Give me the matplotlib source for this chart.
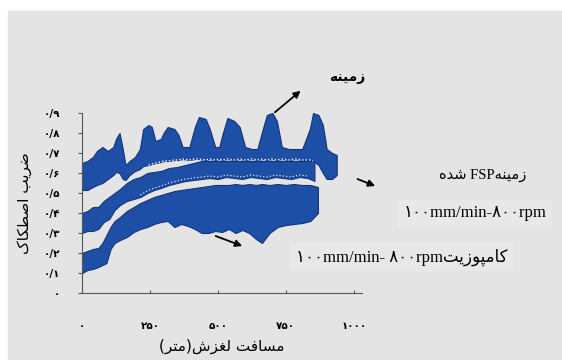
import matplotlib
matplotlib.use("Agg")
import matplotlib.pyplot as plt
from matplotlib.patches import Rectangle

# sliding distance (m) and friction-coefficient envelopes
# base metal
d_base = [0, 20, 40, 55, 75, 95, 115, 125, 138, 150, 160, 175, 195, 213, 225, 245, 257, 270,
          290, 300, 315, 340, 355, 370, 395, 415, 430, 455, 470, 490, 505, 518, 535, 560, 580,
          600, 625, 645, 665, 680, 700, 717, 735, 760, 785, 810, 838, 850, 870, 886, 900, 920, 937]
base_hi = [0.65, 0.66, 0.68, 0.71, 0.73, 0.71, 0.73, 0.77, 0.80, 0.72, 0.64, 0.66, 0.68, 0.72,
           0.82, 0.84, 0.83, 0.76, 0.77, 0.80, 0.83, 0.82, 0.79, 0.73, 0.73, 0.83, 0.88, 0.87,
           0.82, 0.73, 0.73, 0.80, 0.875, 0.86, 0.83, 0.73, 0.72, 0.72, 0.82, 0.89, 0.90, 0.86,
           0.73, 0.72, 0.72, 0.72, 0.82, 0.90, 0.89, 0.84, 0.72, 0.70, 0.69]
base_lo = [0.515, 0.515, 0.53, 0.54, 0.55, 0.57, 0.59, 0.605, 0.60, 0.57, 0.565, 0.59, 0.61,
           0.62, 0.635, 0.64, 0.645, 0.65, 0.655, 0.66, 0.66, 0.665, 0.665, 0.67, 0.665, 0.67,
           0.67, 0.665, 0.67, 0.665, 0.67, 0.665, 0.67, 0.665, 0.67, 0.665, 0.67, 0.665, 0.67,
           0.665, 0.67, 0.665, 0.67, 0.665, 0.67, 0.665, 0.665, 0.66, 0.64, 0.60, 0.57, 0.57, 0.59]

# FSP processed base, 100 mm/min - 800 rpm
d_fsp = [0, 20, 40, 60, 80, 100, 120, 140, 165, 190, 215, 240, 265, 290, 320, 350, 380, 410,
         440, 470, 500, 530, 560, 590, 620, 650, 680, 710, 740, 770, 800, 830, 855]
fsp_hi = [0.40, 0.41, 0.43, 0.43, 0.46, 0.48, 0.50, 0.52, 0.55, 0.57, 0.58, 0.60, 0.605, 0.61,
          0.625, 0.63, 0.64, 0.65, 0.66, 0.66, 0.66, 0.66, 0.66, 0.66, 0.66, 0.66, 0.66, 0.66,
          0.66, 0.66, 0.66, 0.66, 0.66]
fsp_lo = [0.30, 0.31, 0.31, 0.32, 0.355, 0.37, 0.415, 0.44, 0.46, 0.47, 0.48, 0.50, 0.515, 0.525,
          0.54, 0.55, 0.56, 0.565, 0.57, 0.575, 0.57, 0.58, 0.575, 0.57, 0.58, 0.575, 0.57, 0.58,
          0.575, 0.57, 0.58, 0.575, 0.56]

# composite, 100 mm/min - 800 rpm
d_comp = [0, 20, 40, 60, 75, 90, 105, 120, 140, 165, 190, 215, 240, 265, 290, 315, 340, 365,
          390, 415, 440, 465, 490, 515, 540, 565, 590, 615, 640, 662, 690, 720, 750, 780, 810,
          840, 868]
comp_hi = [0.20, 0.21, 0.22, 0.225, 0.25, 0.29, 0.33, 0.36, 0.38, 0.41, 0.43, 0.45, 0.465, 0.48,
           0.49, 0.50, 0.51, 0.515, 0.52, 0.525, 0.53, 0.535, 0.54, 0.54, 0.54, 0.545, 0.54,
           0.545, 0.54, 0.545, 0.54, 0.545, 0.54, 0.545, 0.54, 0.54, 0.53]
comp_lo = [0.10, 0.115, 0.12, 0.13, 0.14, 0.15, 0.22, 0.25, 0.265, 0.28, 0.305, 0.32, 0.33,
           0.345, 0.355, 0.36, 0.33, 0.345, 0.335, 0.32, 0.30, 0.30, 0.31, 0.305, 0.32, 0.30,
           0.315, 0.30, 0.27, 0.25, 0.30, 0.33, 0.34, 0.345, 0.35, 0.36, 0.40]

x_ticks = [0, 250, 500, 750, 1000]
x_tick_labels = ["\u06f0", "\u06f2\u06f5\u06f0", "\u06f5\u06f0\u06f0", "\u06f7\u06f5\u06f0",
                 "\u06f1\u06f0\u06f0\u06f0"]
y_ticks = [0, 0.1, 0.2, 0.3, 0.4, 0.5, 0.6, 0.7, 0.8, 0.9]
y_tick_labels = ["\u06f0"] + ["\u06f0/" + chr(0x06f0 + i) for i in range(1, 10)]

# persian strings, pre-shaped (presentation forms, visual order)
txt_base = "\ufeea\ufee8\ufef4\ufee3\ufeaf"
txt_fsp = "\ufee9\ufeaa\ufeb7 FSP" + txt_base
txt_speed = "\u06f1\u06f0\u06f0mm/min-\u06f8\u06f0\u06f0rpm"
txt_comp = "\u06f1\u06f0\u06f0mm/min- \u06f8\u06f0\u06f0rpm" + "\ufe96\ufef3\ufeaf\ufeee\ufb59\ufee3\ufe8e\ufb90"
txt_ylabel = "\ufb8e\ufe8e\ufb91\ufec4\ufebb\ufe8d \ufe90\ufef3\ufeae\ufebf"
txt_xlabel = "(\ufeae\ufe98\ufee3)\ufeb5\ufeb0\ufed0\ufedf \ufe96\ufed3\ufe8e\ufeb4\ufee3"

fam = ["Liberation Serif", "DejaVu Sans"]
blue = "#1e4fa6"
edge = "#12357a"

fig = plt.figure(figsize=(5.62, 3.6), dpi=100, facecolor="white")
fig.patches.append(Rectangle((8 / 562, 0), 1, 349 / 360, transform=fig.transFigure,
                             color="#e4e4e4", zorder=-10))
ax = fig.add_axes([82 / 562, 67 / 360, 280 / 562, 180 / 360])
ax.set_facecolor("none")

for d, lo, hi in [(d_comp, comp_lo, comp_hi), (d_fsp, fsp_lo, fsp_hi), (d_base, base_lo, base_hi)]:
    ax.fill_between(d, lo, hi, color=blue, edgecolor=edge, linewidth=0.8, clip_on=False)

# speckled seam where the base and FSP traces touch
seam = [i for i, d in enumerate(d_base) if 230 <= d <= 860]
ax.plot([d_base[i] for i in seam], [base_lo[i] for i in seam], color="white",
        ls=(0, (1, 1.5)), lw=1.0)
ax.plot(d_fsp[10:-1], [v + 0.01 for v in fsp_lo[10:-1]], color="white", ls=(0, (1, 2)), lw=0.8)

ax.set_xlim(0, 1030)
ax.set_ylim(0, 0.9)
for s in ["top", "right"]:
    ax.spines[s].set_visible(False)
for s in ["left", "bottom"]:
    ax.spines[s].set_color("#555555")
    ax.spines[s].set_linewidth(0.8)

ax.set_xticks(x_ticks)
ax.set_xticklabels(x_tick_labels, fontsize=7.5, fontweight="bold", family="DejaVu Sans")
ax.set_yticks(y_ticks)
ax.set_yticklabels(y_tick_labels, fontsize=7.5, fontweight="bold", family="DejaVu Sans")
ax.tick_params(axis="x", direction="in", length=2, pad=20, color="#555555")
ax.tick_params(axis="y", direction="out", length=3, pad=13, color="#555555")

ax.set_xlabel(txt_xlabel, fontsize=11, family="DejaVu Sans", labelpad=6)
ax.set_ylabel(txt_ylabel, fontsize=11, family="DejaVu Sans", labelpad=8)

arrow = dict(arrowstyle="-|>", color="black", lw=1.3, mutation_scale=10)
ax.annotate("", xy=(812, 1.02), xytext=(702, 0.895), arrowprops=arrow, annotation_clip=False)
ax.annotate("", xy=(1088, 0.53), xytext=(1004, 0.575), arrowprops=arrow, annotation_clip=False)
ax.annotate("", xy=(599, 0.23), xytext=(482, 0.29), arrowprops=arrow, annotation_clip=False)

ax.text(974, 1.08, txt_base, fontsize=10, fontweight="bold", family="DejaVu Sans",
        ha="center", va="center", clip_on=False)
ax.text(1474, 0.59, txt_fsp, fontsize=10.5, family=fam, ha="center", va="center", clip_on=False)
ax.text(1445, 0.40, txt_speed, fontsize=12, family=fam, ha="center", va="center", clip_on=False,
        bbox=dict(facecolor="#e8e8e8", edgecolor="none", pad=4))
ax.text(1176, 0.18, txt_comp, fontsize=12, family=fam, ha="center", va="center", clip_on=False,
        bbox=dict(facecolor="#e8e8e8", edgecolor="none", pad=4))

fig.savefig("out.png", dpi=100)
